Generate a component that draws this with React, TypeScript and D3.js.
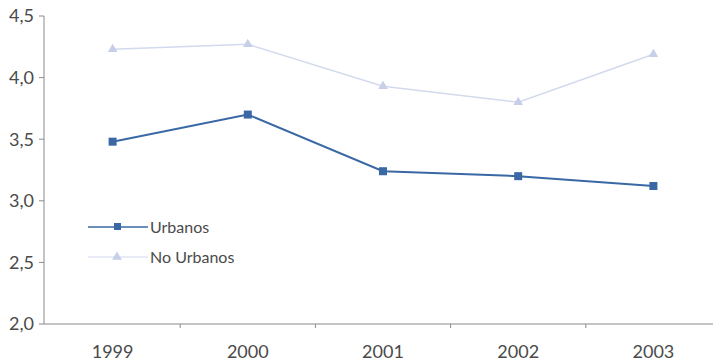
import React from "react";
import * as d3 from "d3";

const years = ["1999", "2000", "2001", "2002", "2003"];
const urbanos = [3.48, 3.7, 3.24, 3.2, 3.12];
const noUrbanos = [4.23, 4.27, 3.93, 3.8, 4.19];
const yTicks = [2.0, 2.5, 3.0, 3.5, 4.0, 4.5];
const seriesNames = ["Urbanos", "No Urbanos"];

const W = 713;
const H = 364;
const FONT = "Lato, 'Open Sans', sans-serif";
const TEXT = "#4a4a4a";
const AXIS = "#8a8a8a";
const DARK = "#3a68a5";
const LIGHT = "#d3daee";
const LIGHT_MARK = "#c6cee8";

export default function App() {
  const x = d3.scaleBand<string>().domain(years).range([45, 721]);
  const y = d3.scaleLinear().domain([2, 4.5]).range([324, 16]);
  const cx = (yr: string) => (x(yr) as number) + x.bandwidth() / 2;
  const line = d3
    .line<number>()
    .x((_, i) => cx(years[i]))
    .y((d) => y(d));
  const tri = d3.symbol().type(d3.symbolTriangle).size(40)();
  const fmt = (v: number) => v.toFixed(1).replace(".", ",");

  return (
    <svg
      width={W}
      height={H}
      style={{ position: "absolute", left: 0, top: 0, background: "#fff" }}
      fontFamily={FONT}
    >
      {/* axes */}
      <line x1={44} x2={44} y1={y(4.5)} y2={y(2)} stroke={AXIS} strokeWidth={1} />
      <line x1={44} x2={W} y1={y(2)} y2={y(2)} stroke={AXIS} strokeWidth={1} />
      {yTicks.map((t) => (
        <g key={t}>
          <line x1={39} x2={44} y1={y(t)} y2={y(t)} stroke={AXIS} />
          <text
            x={34}
            y={y(t)}
            dy="0.36em"
            textAnchor="end"
            fontSize={18}
            fill={TEXT}
          >
            {fmt(t)}
          </text>
        </g>
      ))}
      {years.slice(1).map((yr) => (
        <line
          key={yr}
          x1={x(yr)}
          x2={x(yr)}
          y1={y(2)}
          y2={y(2) + 4}
          stroke={AXIS}
        />
      ))}
      {years.map((yr) => (
        <text
          key={yr}
          x={cx(yr)}
          y={358}
          textAnchor="middle"
          fontSize={18}
          fill={TEXT}
        >
          {yr}
        </text>
      ))}

      {/* No Urbanos */}
      <path d={line(noUrbanos) || ""} fill="none" stroke={LIGHT} strokeWidth={1.5} />
      {noUrbanos.map((v, i) => (
        <path
          key={i}
          d={tri || ""}
          transform={`translate(${cx(years[i])},${y(v)})`}
          fill={LIGHT_MARK}
        />
      ))}

      {/* Urbanos */}
      <path d={line(urbanos) || ""} fill="none" stroke={DARK} strokeWidth={2} />
      {urbanos.map((v, i) => (
        <rect
          key={i}
          x={cx(years[i]) - 4}
          y={y(v) - 4}
          width={8}
          height={8}
          fill={DARK}
        />
      ))}

      {/* legend */}
      <g>
        <line x1={88} x2={148} y1={227} y2={227} stroke={DARK} strokeWidth={1.5} />
        <rect x={114} y={223} width={7} height={7} fill={DARK} />
        <text x={150} y={233} fontSize={16} fill={TEXT}>
          {seriesNames[0]}
        </text>
        <line x1={88} x2={148} y1={257} y2={257} stroke={LIGHT} strokeWidth={1.2} />
        <path d={tri || ""} transform="translate(117,257)" fill={LIGHT_MARK} />
        <text x={150} y={263} fontSize={16} fill={TEXT}>
          {seriesNames[1]}
        </text>
      </g>
    </svg>
  );
}
